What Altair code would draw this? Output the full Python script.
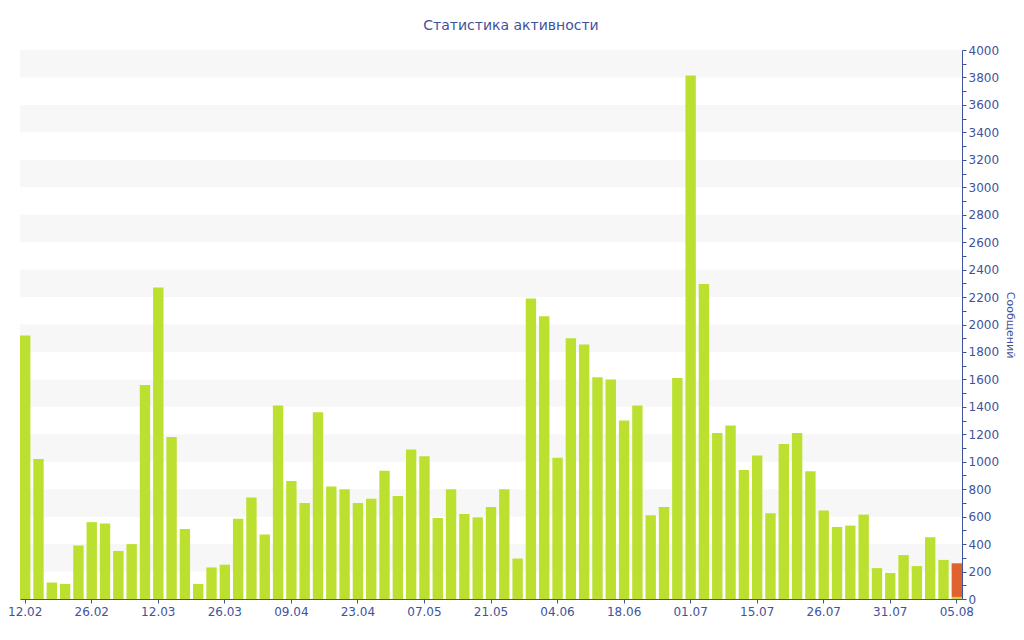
import altair as alt
import pandas as pd

values = [1920, 1020, 120, 110, 390, 560, 550, 350, 400, 1560,
          2270, 1180, 510, 110, 230, 250, 585, 740, 470, 1410,
          860, 700, 1360, 820, 800, 700, 730, 935, 750, 1090,
          1040, 590, 800, 620, 595, 670, 800, 295, 2190, 2060,
          1030, 1900, 1855, 1615, 1600, 1300, 1410, 610, 670, 1610,
          3815, 2295, 1210, 1265, 940, 1045, 625, 1130, 1210, 930,
          645, 525, 535, 615, 225, 190, 320, 240, 450, 285, 15]
last_extra = 245  # orange part of the last (current) bar
tick_labels = ["12.02", "26.02", "12.03", "26.03", "09.04", "23.04", "07.05",
               "21.05", "04.06", "18.06", "01.07", "15.07", "26.07", "31.07", "05.08"]
band_starts = [200, 600, 1000, 1400, 1800, 2200, 2600, 3000, 3400, 3800]

n = len(values)
rows = []
for i, v in enumerate(values):
    rows.append({"i": i, "v": v, "s": "a", "o": 0})
rows.append({"i": n - 1, "v": last_extra, "s": "b", "o": 1})
bars_df = pd.DataFrame(rows)
bands_df = pd.DataFrame({"y0": band_starts, "y1": [b + 200 for b in band_starts]})

label_arr = [""] * n
for k, t in enumerate(tick_labels):
    label_arr[k * 5] = t
label_expr = "[" + ",".join("'" + s + "'" for s in label_arr) + "][datum.value]"

TXT = "#3f529c"
FONT = "DejaVu Sans"

y_scale = alt.Scale(domain=[0, 4000], nice=False)
y_axis = alt.Axis(orient="right", values=list(range(0, 4001, 100)),
                  labelExpr="datum.value % 200 == 0 ? datum.value : ''",
                  labelOverlap=False,
                  title="Сообщений", titleColor=TXT, titleFont=FONT,
                  titleFontSize=11, titleFontWeight="normal", titlePadding=6,
                  domainColor=TXT, tickColor=TXT, labelColor=TXT,
                  labelFont=FONT, labelFontSize=12, tickSize=4,
                  labelPadding=2, grid=False)

bands = alt.Chart(bands_df).mark_rect(color="#f7f7f7").encode(
    y=alt.Y("y0:Q", scale=y_scale, axis=y_axis),
    y2="y1:Q",
)

bars = alt.Chart(bars_df).mark_bar().encode(
    x=alt.X("i:O", sort=None,
            scale=alt.Scale(paddingInner=0.22, paddingOuter=0.0),
            axis=alt.Axis(values=list(range(0, n, 5)), labelExpr=label_expr,
                          labelAngle=0, title=None, domainColor=TXT, tickColor=TXT,
                          labelColor=TXT, labelFont=FONT, labelFontSize=12,
                          tickSize=4, labelPadding=3, labelOverlap=False)),
    y=alt.Y("v:Q", stack="zero", scale=y_scale, axis=y_axis),
    color=alt.Color("s:N", scale=alt.Scale(domain=["a", "b"], range=["#bce030", "#e0622e"]),
                    legend=None),
    order=alt.Order("o:Q"),
)

chart = alt.layer(bands, bars).properties(
    width=942, height=549,
    autosize=alt.AutoSizeParams(type="none"),
    padding={"left": 12, "top": 42, "right": 54, "bottom": 24},
    title=alt.TitleParams("Статистика активности", font=FONT, fontSize=14,
                          fontWeight="normal", color=TXT, anchor="middle",
                          offset=11, dx=20),
).configure_view(stroke=None).configure_axis(labelOverlap=False)

chart.save("out.html", embed_options={"renderer": "svg", "actions": False})
